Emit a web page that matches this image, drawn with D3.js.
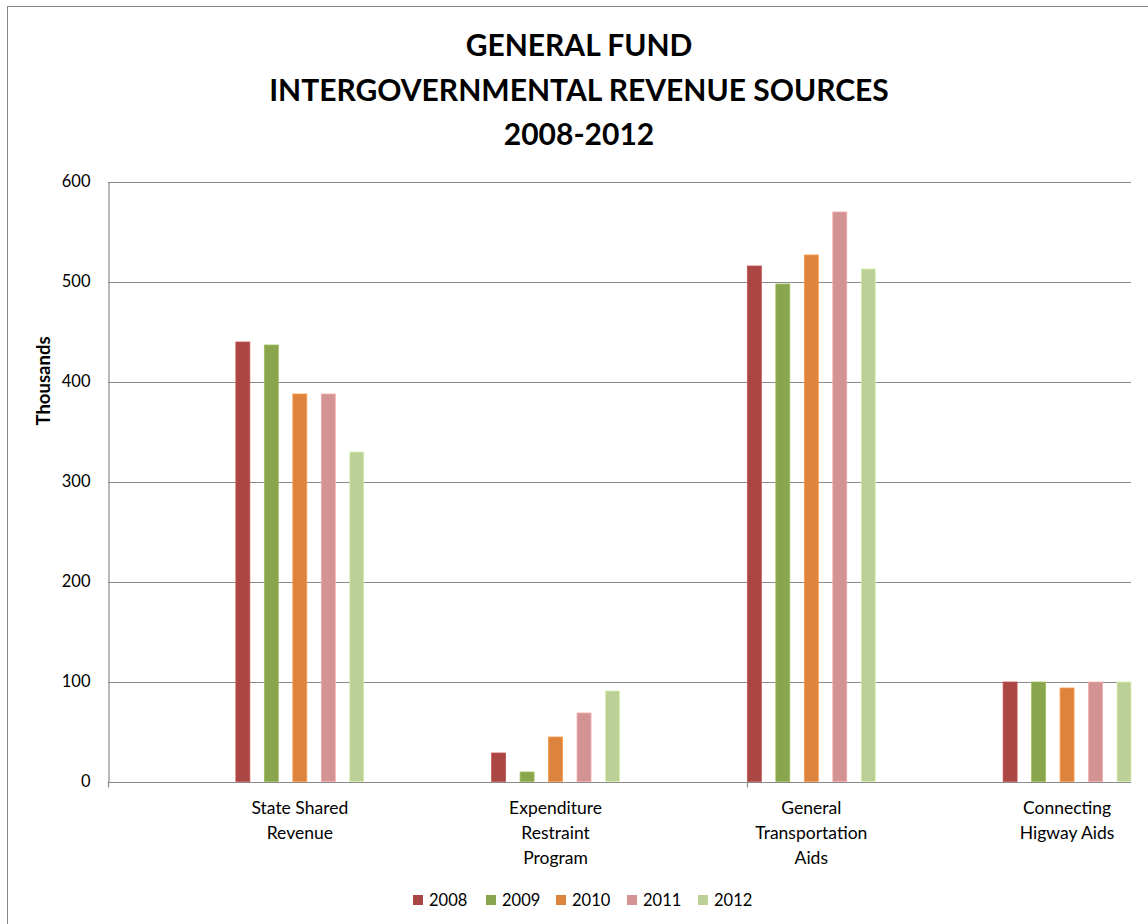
<!DOCTYPE html>
<html>
<head>
<meta charset="utf-8">
<script src="https://cdn.jsdelivr.net/npm/d3@7"></script>
<style>
  html, body { margin: 0; padding: 0; background: #fff; }
  svg { display: block; }
  text { font-family: Lato, "Open Sans", sans-serif; fill: #000; }
</style>
</head>
<body>
<svg id="chart" width="1148" height="924"></svg>
<script>
// ---- data ----
const titleLines = ["GENERAL FUND", "INTERGOVERNMENTAL REVENUE SOURCES", "2008-2012"];
const yAxisTitle = "Thousands";
const categories = ["State Shared Revenue", "Expenditure Restraint Program", "General Transportation Aids", "Connecting Higway Aids"];
const categoryLabelLines = [["State Shared", "Revenue"], ["Expenditure", "Restraint", "Program"], ["General", "Transportation", "Aids"], ["Connecting", "Higway Aids"]];
const years = ["2008", "2009", "2010", "2011", "2012"];
const values2008 = [440, 29, 516, 100];
const values2009 = [437, 10, 498, 100];
const values2010 = [388, 45, 527, 94];
const values2011 = [388, 69, 570, 100];
const values2012 = [330, 91, 513, 100];
const yTicks = [0, 100, 200, 300, 400, 500, 600];
const colors = ["#AA4644", "#89A54E", "#DC843D", "#D49393", "#BAD096"];

const seriesValues = [values2008, values2009, values2010, values2011, values2012];

// ---- layout ----
const svg = d3.select("#chart");
const plot = { left: 108, right: 1131, top: 181.5, bottom: 781.5 };
const bandStep = (plot.right - plot.left) / categories.length;

// Groups are offset by a quarter band relative to the plot edges (as in reference)
const x0 = d3.scaleBand()
  .domain(categories)
  .range([plot.left + bandStep / 4, plot.right + bandStep / 4])
  .paddingInner(0.5)
  .paddingOuter(0.25);

const x1 = d3.scaleBand()
  .domain(years)
  .range([0, x0.bandwidth()])
  .paddingInner(0.51)
  .paddingOuter(0);

const y = d3.scaleLinear().domain([0, 600]).range([plot.bottom, plot.top]);
const color = d3.scaleOrdinal().domain(years).range(colors);

// outer border
svg.append("rect")
  .attr("x", 7.5).attr("y", 6.5)
  .attr("width", 1200).attr("height", 1000)
  .attr("fill", "none").attr("stroke", "#878787").attr("stroke-width", 1);

// title
svg.append("g").selectAll("text")
  .data(titleLines)
  .join("text")
  .attr("x", 579)
  .attr("y", (d, i) => 56 + i * 44.5)
  .attr("text-anchor", "middle")
  .attr("font-weight", "bold")
  .attr("font-size", 30)
  .text(d => d);

// gridlines
svg.append("g")
  .selectAll("line")
  .data(yTicks.filter(t => t > 0))
  .join("line")
  .attr("x1", plot.left).attr("x2", plot.right)
  .attr("y1", d => Math.round(y(d)) + 0.5).attr("y2", d => Math.round(y(d)) + 0.5)
  .attr("stroke", "#8a8a8a").attr("stroke-width", 1.2);

// y axis
const yAxis = d3.axisLeft(y).tickValues(yTicks).tickSize(0).tickPadding(18);
const gy = svg.append("g").attr("transform", `translate(${plot.left + 0.5},0)`).call(yAxis);
gy.select(".domain").attr("stroke", "#8a8a8a").attr("stroke-width", 1.2);
gy.selectAll("text").attr("font-size", 16.5).attr("fill", "#000")
  .style("font-family", "Lato, 'Open Sans', sans-serif");

// y axis title
svg.append("text")
  .attr("transform", `translate(50, 381) rotate(-90)`)
  .attr("text-anchor", "middle")
  .attr("font-weight", "bold")
  .attr("font-size", 18.5)
  .text(yAxisTitle);

// bars
const groups = svg.append("g")
  .selectAll("g")
  .data(categories)
  .join("g")
  .attr("transform", d => `translate(${x0(d)},0)`);

groups.selectAll("rect")
  .data((d, ci) => years.map((yr, si) => ({ yr, v: seriesValues[si][ci] })))
  .join("rect")
  .attr("x", d => x1(d.yr))
  .attr("y", d => y(d.v) + 0.5)
  .attr("width", x1.bandwidth())
  .attr("height", d => y(0) - y(d.v) - 0.5)
  .attr("fill", d => color(d.yr))
  .attr("stroke", d => d3.color(color(d.yr)).brighter(0.4))
  .attr("stroke-width", 0.8);

// x axis line & ticks
svg.append("line")
  .attr("x1", plot.left).attr("x2", plot.right)
  .attr("y1", Math.round(y(0)) + 0.5).attr("y2", Math.round(y(0)) + 0.5)
  .attr("stroke", "#8a8a8a").attr("stroke-width", 1.2);
svg.append("g").selectAll("line")
  .data([plot.left, x0(categories[2])])
  .join("line")
  .attr("x1", d => Math.round(d) + 0.5).attr("x2", d => Math.round(d) + 0.5)
  .attr("y1", y(0)).attr("y2", y(0) + 6)
  .attr("stroke", "#8a8a8a").attr("stroke-width", 1.2);

// category labels
const labG = svg.append("g");
categories.forEach((c, i) => {
  const cx = x0(c) + x0.bandwidth() / 2;
  const t = labG.append("text")
    .attr("x", cx)
    .attr("y", 814)
    .attr("text-anchor", "middle")
    .attr("font-size", 17.5);
  categoryLabelLines[i].forEach((ln, j) => {
    t.append("tspan").attr("x", cx).attr("y", 814 + j * 25).text(ln);
  });
});

// legend
const legendX = [413, 486, 556, 627, 698];
const lg = svg.append("g");
years.forEach((yr, i) => {
  lg.append("rect").attr("x", legendX[i]).attr("y", 895).attr("width", 10).attr("height", 10).attr("fill", color(yr));
  lg.append("text").attr("x", legendX[i] + 16).attr("y", 906).attr("font-size", 16.5).text(yr);
});
</script>
</body>
</html>
